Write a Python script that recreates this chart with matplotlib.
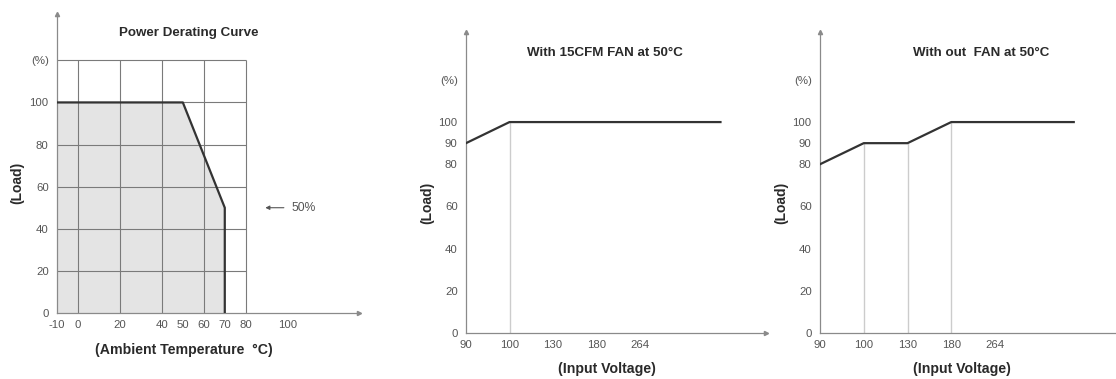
import matplotlib
matplotlib.use("Agg")
import matplotlib.pyplot as plt

plt.rcParams['font.family'] = ['Liberation Sans', 'DejaVu Sans']

# ---------------- data ----------------
# Panel 1: power derating curve
temp_ticks = [-10, 0, 20, 40, 50, 60, 70, 80, 100]
temp_grid_x = [0, 20, 40, 60, 80]
load_ticks = [0, 20, 40, 60, 80, 100]
load_grid_y = [20, 40, 60, 80, 100, 120]
derating_temp = [-10, 50, 70, 70]
derating_load = [100, 100, 50, 0]
note_value = 50

# Panels 2 & 3: input voltage derating (category axis)
voltage_labels = ['90', '100', '130', '180', '264']
voltage_load_ticks = [0, 20, 40, 60, 80, 90, 100]
line_end_pos = 5.85          # where the flat 100% line ends (category units)

fan_x = [0, 1, line_end_pos]
fan_y = [90, 100, 100]
fan_guides_x = [1]
fan_guides_y = [100]

nofan_x = [0, 1, 2, 3, 5.8]
nofan_y = [80, 90, 90, 100, 100]
nofan_guides_x = [1, 2, 3]
nofan_guides_y = [90, 90, 100]

# ---------------- figure ----------------
W, H = 1116, 379
fig = plt.figure(figsize=(W / 100, H / 100), dpi=100)

def add_ax(x0, x1, y_bottom, y_top):
    return fig.add_axes([x0 / W, 1 - y_bottom / H, (x1 - x0) / W, (y_bottom - y_top) / H])

TICK_COLOR = '#555555'
AXIS_COLOR = '#8a8a8a'
CURVE_COLOR = '#333333'
TICK_FS = 8.2

def style_axes(ax, arrow_x=True):
    for s in ['top', 'right']:
        ax.spines[s].set_visible(False)
    for s in ['left', 'bottom']:
        ax.spines[s].set_color(AXIS_COLOR)
        ax.spines[s].set_linewidth(0.9)
    ax.tick_params(length=0, labelsize=TICK_FS, labelcolor=TICK_COLOR)
    ax.tick_params(axis='y', pad=6)
    ax.tick_params(axis='x', pad=5)
    ax.plot([0], [1], marker='^', ms=3, color=AXIS_COLOR, transform=ax.transAxes, clip_on=False)
    if arrow_x:
        ax.plot([1], [0], marker='>', ms=3, color=AXIS_COLOR, transform=ax.transAxes, clip_on=False)

# Panel 1
ax1 = add_ax(57, 359, 313, 14)
ax1.set_xlim(-10, 134)
ax1.set_ylim(0, 142)
style_axes(ax1)
ax1.fill_between(derating_temp, derating_load, 0, color='#e4e4e4', lw=0, zorder=1)
ax1.hlines(load_grid_y, -10, 80, color='#7a7a7a', lw=0.8, zorder=2)
ax1.vlines(temp_grid_x, 0, 120, color='#7a7a7a', lw=0.8, zorder=2)
ax1.plot(derating_temp, derating_load, color=CURVE_COLOR, lw=1.6, zorder=3)
ax1.set_xticks(temp_ticks)
ax1.set_xticklabels([str(t) for t in temp_ticks])
ax1.set_yticks(load_ticks + [120])
ax1.set_yticklabels([str(v) for v in load_ticks] + ['(%)'])
ax1.annotate('', xy=(88, note_value), xytext=(99.5, note_value),
             arrowprops=dict(arrowstyle='-|>', color='#555555', lw=0.8, mutation_scale=6))
ax1.text(102, note_value, f'{note_value}%', fontsize=TICK_FS + 0.5, color='#555555', va='center', ha='left')

# Panel 2
ax2 = add_ax(466, 466 + 43.5 * 6.9, 333, 32)
ax2.set_xlim(0, 6.9)
ax2.set_ylim(0, 142.7)
style_axes(ax2)
ax2.vlines(fan_guides_x, 0, fan_guides_y, color='#cccccc', lw=1.0, zorder=1)
ax2.plot(fan_x, fan_y, color=CURVE_COLOR, lw=1.6, zorder=3)
ax2.set_xticks(range(len(voltage_labels)))
ax2.set_xticklabels(voltage_labels)
ax2.set_yticks(voltage_load_ticks + [120])
ax2.set_yticklabels([str(v) for v in voltage_load_ticks] + ['(%)'])

# Panel 3
ax3 = add_ax(820, 1116, 333, 32)
ax3.set_xlim(0, 296 / 43.75)
ax3.set_ylim(0, 142.7)
style_axes(ax3, arrow_x=False)
ax3.vlines(nofan_guides_x, 0, nofan_guides_y, color='#cccccc', lw=1.0, zorder=1)
ax3.plot(nofan_x, nofan_y, color=CURVE_COLOR, lw=1.6, zorder=3)
ax3.set_xticks(range(len(voltage_labels)))
ax3.set_xticklabels(voltage_labels)
ax3.set_yticks(voltage_load_ticks + [120])
ax3.set_yticklabels([str(v) for v in voltage_load_ticks] + ['(%)'])

# Texts
def ftext(x, y, s, **kw):
    fig.text(x / W, 1 - y / H, s, ha='center', va='center', fontweight='bold', color='#2a2a2a', **kw)

ftext(189, 33, 'Power Derating Curve', fontsize=9.6)
ftext(605, 53, 'With 15CFM FAN at 50°C', fontsize=9.6)
ftext(981, 53, 'With out  FAN at 50°C', fontsize=9.6)
ftext(184, 350, '(Ambient Temperature  °C)', fontsize=10.2)
ftext(607, 369, '(Input Voltage)', fontsize=10.2)
ftext(962, 369, '(Input Voltage)', fontsize=10.2)
ftext(17, 183, '(Load)', fontsize=10, rotation=90)
ftext(427, 203, '(Load)', fontsize=10, rotation=90)
ftext(781, 203, '(Load)', fontsize=10, rotation=90)

fig.savefig('out.png', dpi=100, facecolor='white')
